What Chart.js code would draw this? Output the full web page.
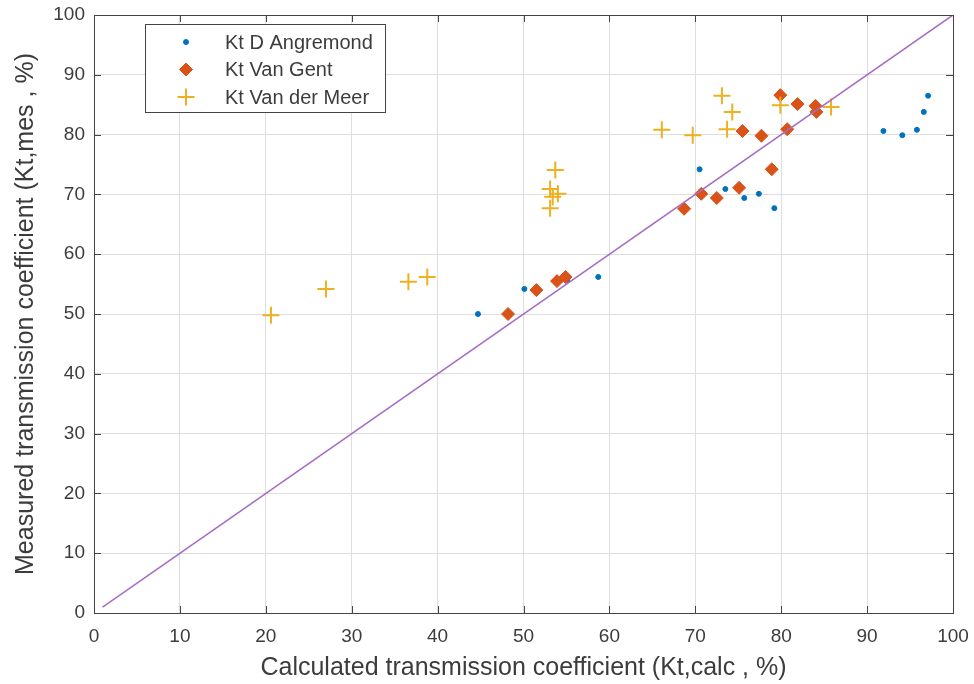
<!DOCTYPE html>
<html lang="en">
<head>
  <meta charset="UTF-8">
  <title>Transmission coefficient</title>
  <script src="https://cdn.jsdelivr.net/npm/chart.js"></script>
  <style>
    body {
      margin: 0;
      background: white;
    }
    canvas {
      display: block;
    }
  </style>
</head>
<body>
  <canvas id="ktChart" width="974" height="684"></canvas>

  <script>
    // Kt D Angremond
    const angremondCalc = [44.7, 50.1, 53.9, 55.1, 58.7, 70.5, 73.5, 75.7, 77.4, 79.2, 91.9, 94.1, 95.8, 96.6, 97.1];
    const angremondMes  = [50.0, 54.2, 55.3, 55.7, 56.2, 74.2, 70.9, 69.4, 70.1, 67.7, 80.6, 79.9, 80.8, 83.8, 86.5];

    // Kt Van Gent
    const gentCalc = [48.2, 51.5, 53.9, 54.9, 68.7, 70.7, 72.5, 75.1, 78.9, 75.5, 77.7, 80.7, 79.9, 81.9, 84.0, 84.1];
    const gentMes  = [50.0, 54.0, 55.5, 56.2, 67.6, 70.1, 69.4, 71.1, 74.2, 80.6, 79.8, 80.9, 86.6, 85.1, 84.8, 83.8];

    // Kt Van der Meer
    const meerCalc = [20.6, 27.0, 36.6, 38.8, 53.7, 53.1, 54.0, 53.1, 53.4, 66.1, 69.7, 73.1, 74.3, 73.7, 79.9, 85.8];
    const meerMes  = [49.8, 54.2, 55.4, 56.2, 74.1, 70.9, 70.1, 67.7, 69.6, 80.8, 79.9, 86.5, 83.8, 80.9, 84.9, 84.6];

    // 1:1 line
    const lineCalc = [1, 100];
    const lineMes  = [1, 100];

    const tickValues = [0, 10, 20, 30, 40, 50, 60, 70, 80, 90, 100];

    const BLUE = '#0072BD';
    const ORANGE = '#D95319';
    const YELLOW = '#EDB120';
    const PURPLE = '#A66CC4';
    const FONT = "'Liberation Sans', Arial, sans-serif";
    const TEXT = '#3c3c3c';

    function toPoints(xs, ys) {
      return xs.map((x, i) => ({ x: x, y: ys[i] }));
    }

    const legendItems = [
      { label: 'Kt D Angremond', style: 'circle', color: BLUE, radius: 2.5 },
      { label: 'Kt Van Gent', style: 'rectRot', color: ORANGE, radius: 6.5 },
      { label: 'Kt Van der Meer', style: 'cross', color: YELLOW, radius: 8.5 }
    ];

    // box, inward ticks and legend like the matlab figure
    const matlabLook = {
      id: 'matlabLook',
      afterDraw(chart) {
        const ctx = chart.ctx;
        const a = chart.chartArea;
        const xs = chart.scales.x, ys = chart.scales.y;
        ctx.save();
        ctx.strokeStyle = '#444';
        ctx.lineWidth = 1;
        ctx.beginPath();
        tickValues.forEach(v => {
          const px = Math.round(xs.getPixelForValue(v)) + 0.5;
          ctx.moveTo(px, a.bottom); ctx.lineTo(px, a.bottom - 7);
          ctx.moveTo(px, a.top); ctx.lineTo(px, a.top + 7);
          const py = Math.round(ys.getPixelForValue(v)) + 0.5;
          ctx.moveTo(a.left, py); ctx.lineTo(a.left + 7, py);
          ctx.moveTo(a.right, py); ctx.lineTo(a.right - 7, py);
        });
        ctx.stroke();
        ctx.strokeRect(a.left + 0.5, a.top + 0.5, a.right - a.left, a.bottom - a.top);

        // legend
        const lx = 145, ly = 24, lw = 240, lh = 88;
        ctx.fillStyle = 'white';
        ctx.fillRect(lx, ly, lw, lh);
        ctx.strokeStyle = '#444';
        ctx.strokeRect(lx + 0.5, ly + 0.5, lw, lh);
        ctx.font = '20px ' + FONT;
        ctx.textBaseline = 'middle';
        legendItems.forEach((item, i) => {
          const cy = 42 + i * 27.5;
          ctx.fillStyle = item.color;
          ctx.strokeStyle = item.color;
          ctx.lineWidth = item.style === 'cross' ? 2 : 1;
          Chart.helpers.drawPoint(ctx, { pointStyle: item.style, radius: item.radius, borderWidth: ctx.lineWidth }, 186, cy);
          ctx.fillStyle = TEXT;
          ctx.fillText(item.label, 225, cy + 1);
        });
        ctx.restore();
      }
    };

    new Chart(document.getElementById('ktChart'), {
      type: 'scatter',
      data: {
        datasets: [
          {
            type: 'line',
            label: '1:1',
            data: toPoints(lineCalc, lineMes),
            borderColor: PURPLE,
            borderWidth: 1.5,
            pointRadius: 0,
            fill: false,
            order: 0
          },
          {
            label: 'Kt Van der Meer',
            data: toPoints(meerCalc, meerMes),
            pointStyle: 'cross',
            pointRadius: 8.5,
            borderColor: YELLOW,
            backgroundColor: YELLOW,
            pointBorderWidth: 2,
            order: 1
          },
          {
            label: 'Kt Van Gent',
            data: toPoints(gentCalc, gentMes),
            pointStyle: 'rectRot',
            pointRadius: 6.5,
            borderColor: ORANGE,
            backgroundColor: ORANGE,
            order: 2
          },
          {
            label: 'Kt D Angremond',
            data: toPoints(angremondCalc, angremondMes),
            pointStyle: 'circle',
            pointRadius: 2.5,
            borderColor: BLUE,
            backgroundColor: BLUE,
            order: 3
          }
        ]
      },
      options: {
        responsive: false,
        animation: false,
        layout: { padding: { top: 15, right: 21, left: 0, bottom: 0 } },
        plugins: {
          legend: { display: false },
          tooltip: { enabled: false }
        },
        scales: {
          x: {
            type: 'linear',
            min: 0,
            max: 100,
            afterFit(scale) {
              scale.height = 71;
              scale.paddingLeft = 0;
              scale.paddingRight = 0;
            },
            afterBuildTicks(scale) { scale.ticks = tickValues.map(v => ({ value: v })); },
            grid: { color: '#dedede', drawTicks: false },
            border: { display: false },
            ticks: { color: TEXT, font: { family: FONT, size: 19 }, padding: 12, maxRotation: 0 },
            title: {
              display: true,
              text: 'Calculated transmission coefficient (Kt,calc , %)',
              color: TEXT,
              font: { family: FONT, size: 25 },
              padding: { top: 0, bottom: 1 }
            }
          },
          y: {
            type: 'linear',
            min: 0,
            max: 100,
            afterFit(scale) {
              scale.width = 94;
              scale.paddingTop = 0;
              scale.paddingBottom = 0;
            },
            afterBuildTicks(scale) { scale.ticks = tickValues.map(v => ({ value: v })); },
            grid: { color: '#dedede', drawTicks: false },
            border: { display: false },
            ticks: { color: TEXT, font: { family: FONT, size: 19 }, padding: 9 },
            title: {
              display: true,
              text: 'Measured transmission coefficient (Kt,mes , %)',
              color: TEXT,
              font: { family: FONT, size: 25 },
              padding: { top: 11, bottom: 0 }
            }
          }
        }
      },
      plugins: [matlabLook]
    });
  </script>
</body>
</html>
